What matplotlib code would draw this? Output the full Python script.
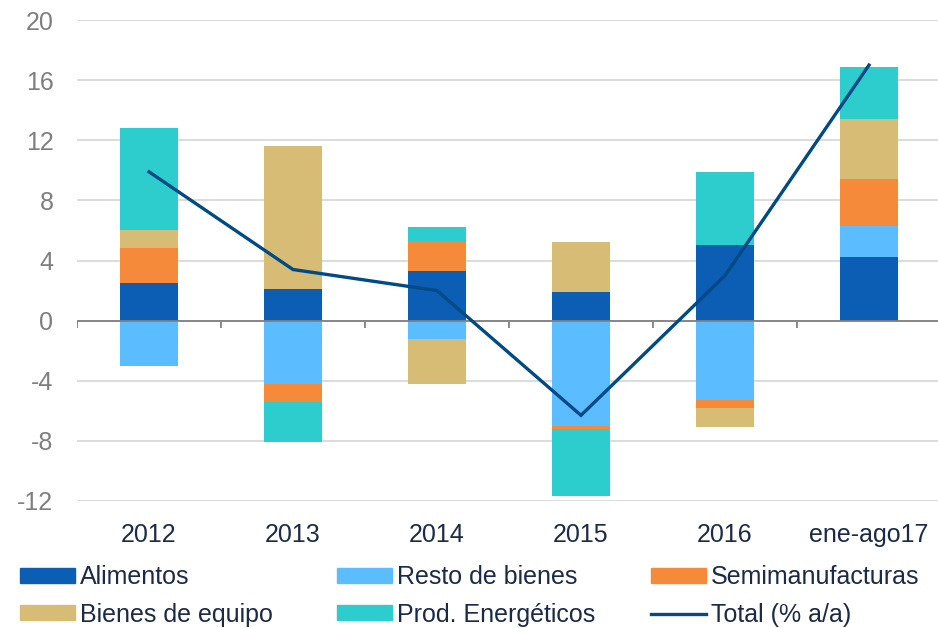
import matplotlib
matplotlib.use("Agg")
import matplotlib.pyplot as plt
import numpy as np
from matplotlib.patches import Patch
from matplotlib.lines import Line2D

plt.rcParams['font.family'] = ['Liberation Sans', 'DejaVu Sans']
plt.rcParams['axes.unicode_minus'] = False

# datos (contribuciones, pp)
categorias = ["2012", "2013", "2014", "2015", "2016", "ene-ago17"]
alimentos = [2.5, 2.1, 3.3, 1.9, 5.0, 4.2]
resto_bienes = [-3.0, -4.2, -1.2, -7.0, -5.3, 2.1]
semimanufacturas = [2.3, -1.2, 2.0, -0.2, -0.5, 3.1]
bienes_equipo = [1.2, 9.5, -3.0, 3.3, -1.3, 4.0]
prod_energeticos = [6.8, -2.7, 0.9, -4.5, 4.9, 3.5]
total = [9.9, 3.4, 2.0, -6.3, 3.0, 17.0]

series = [
    ("Alimentos", alimentos, "#0B5EB3"),
    ("Resto de bienes", resto_bienes, "#5BBCFF"),
    ("Semimanufacturas", semimanufacturas, "#F58A3A"),
    ("Bienes de equipo", bienes_equipo, "#D6BC75"),
    ("Prod. Energéticos", prod_energeticos, "#2ECDCD"),
]
col_total = "#004A85"

fig = plt.figure(figsize=(9.38, 6.28), dpi=100)
ax = fig.add_axes([77/938, 1-501/628, 864/938, 481/628])

x = np.arange(len(categorias))
pos_base = np.zeros(len(x))
neg_base = np.zeros(len(x))
for nombre, vals, color in series:
    v = np.array(vals)
    base = np.where(v >= 0, pos_base, neg_base)
    ax.bar(x, v, 0.4, bottom=base, color=color, zorder=2)
    pos_base = pos_base + np.where(v >= 0, v, 0)
    neg_base = neg_base + np.where(v < 0, v, 0)

ax.plot(x, total, color=col_total, lw=2.4, zorder=4, solid_joinstyle='miter')

ax.set_xlim(-0.5, 5.5)
ax.set_ylim(-12, 20)
ax.set_yticks(np.arange(-12, 21, 4))
ax.yaxis.grid(True, color="#D9D9D9", lw=1.3, zorder=0)
ax.set_axisbelow(True)
for s in ax.spines.values():
    s.set_visible(False)
ax.axhline(0, color="#808080", lw=1.3, zorder=3)
ax.vlines(np.arange(-0.5, 5.6, 1.0), -0.47, 0, color="#808080", lw=1.3, zorder=3)

ax.set_xticks(x)
ax.set_xticklabels(categorias)
ax.tick_params(axis='x', length=0, pad=16, labelsize=18, labelcolor="#1B2A48")
ax.tick_params(axis='y', length=0, pad=17, labelsize=18, labelcolor="#7F7F7F")

# leyenda en tres columnas
handles = [Patch(color=c) for _, _, c in series]
handles.append(Line2D([], [], color=col_total, lw=2.4))
labels = [n for n, _, _ in series] + ["Total (% a/a)"]
columnas = [(0, 3), (1, 4), (2, 5)]
xs = [20/938, 337/938, 651/938]
for (i, j), xx in zip(columnas, xs):
    leg = fig.legend([handles[i], handles[j]], [labels[i], labels[j]],
                     loc="upper left", bbox_to_anchor=(xx, 1-565/628),
                     frameon=False, fontsize=18, handlelength=2.2,
                     handleheight=0.55, handletextpad=0.2, labelspacing=0.55,
                     borderpad=0, borderaxespad=0)
    for t in leg.get_texts():
        t.set_color("#1B2A48")

fig.savefig("out.png", dpi=100)
